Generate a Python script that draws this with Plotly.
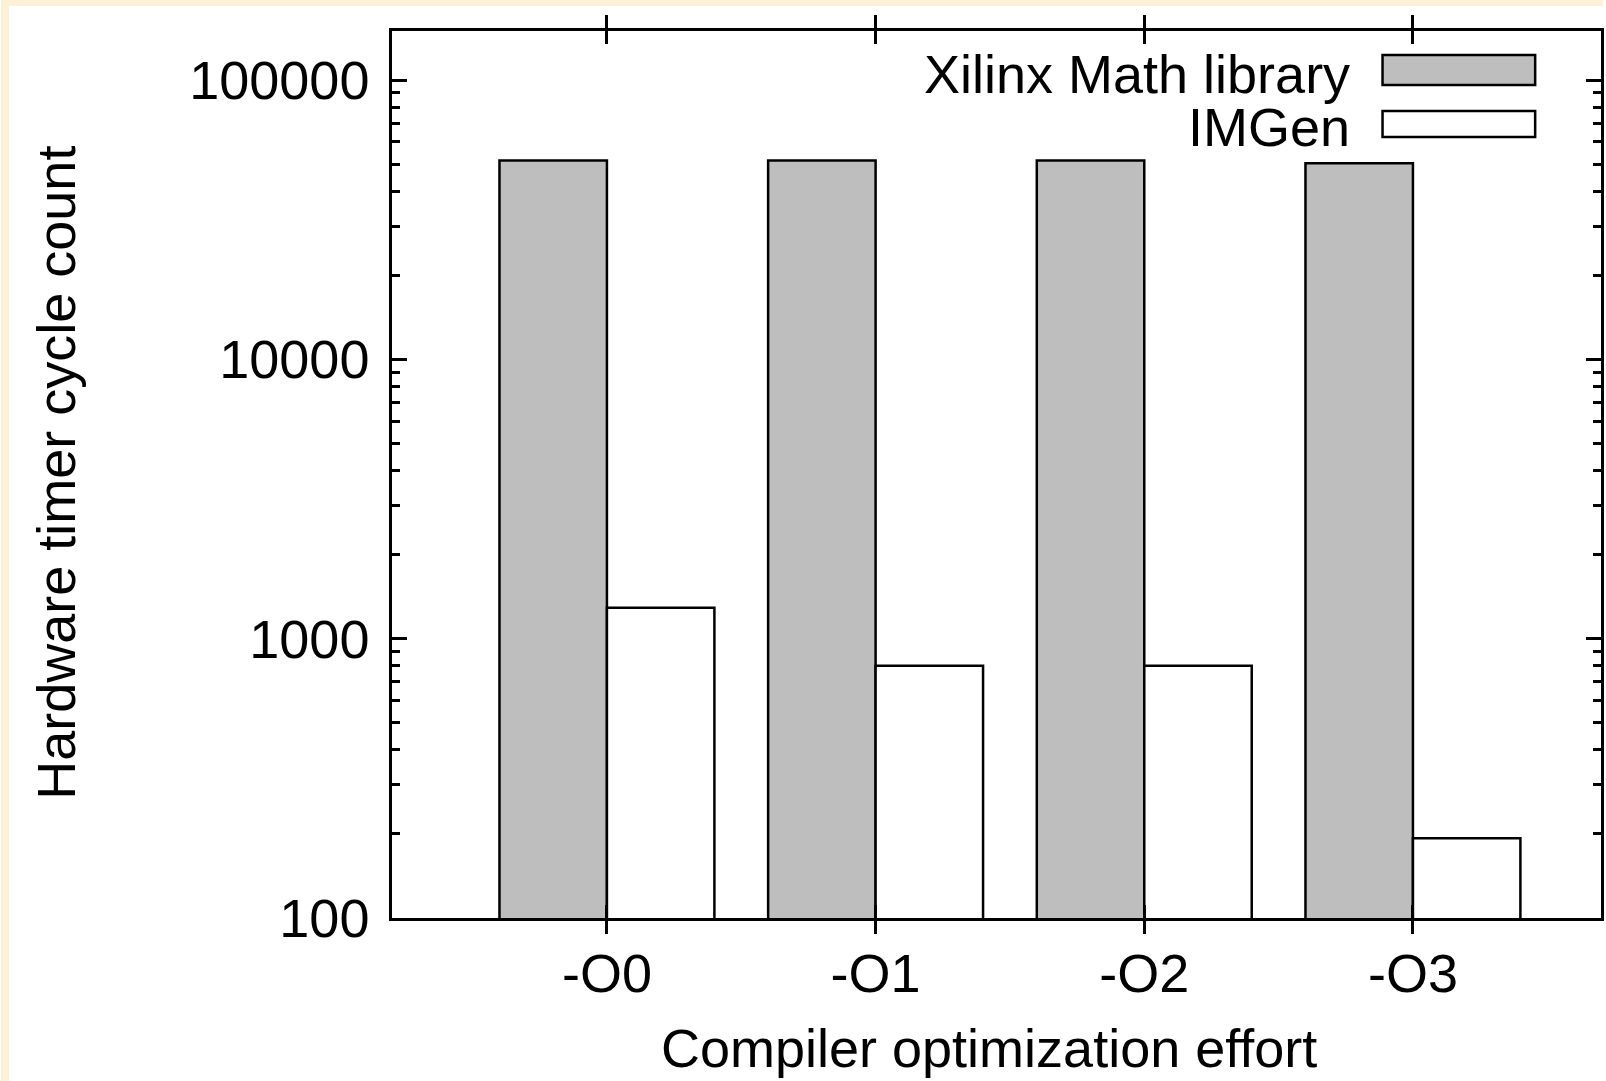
import plotly.graph_objects as go

categories = ["-O0", "-O1", "-O2", "-O3"]
xilinx = [51500, 51500, 51500, 50300]
imgen = [1290, 800, 800, 193]
series_names = ["Xilinx Math library", "IMGen"]
ytick_vals = [100, 1000, 10000, 100000]
ytick_text = ["100", "1000", "10000", "100000"]
minor_vals = [m * d for d in (100, 1000, 10000) for m in range(2, 10)]

W, H = 1606, 1081
L, R, T, B = 392, 1604, 31, 918
FONT = "Liberation Sans, Arial, sans-serif"
FS = 54
GRAY = "#BEBEBE"
LW = 2.5

def px(x):
    return (x - L) / (R - L)

def py(y):
    return (B - y) / (B - T)

fig = go.Figure()
fig.add_bar(x=categories, y=xilinx, name=series_names[0],
            marker=dict(color=GRAY, line=dict(color="black", width=LW)))
fig.add_bar(x=categories, y=imgen, name=series_names[1],
            marker=dict(color="white", line=dict(color="black", width=LW)))
# invisible helper trace so the mirrored right-hand log axis is drawn
fig.add_scatter(x=categories, y=xilinx, yaxis="y2", mode="markers",
                marker=dict(opacity=0), showlegend=False, hoverinfo="skip")

fig.update_layout(
    width=W, height=H,
    margin=dict(l=L, r=W - R, t=T, b=H - B, pad=0),
    paper_bgcolor="white", plot_bgcolor="white",
    barmode="group", bargap=0.2, bargroupgap=0,
    showlegend=False,
    font=dict(family=FONT, size=FS, color="black"),
)
fig.update_xaxes(
    type="category", range=[-0.8, 3.7],
    showline=True, linecolor="black", linewidth=LW, mirror="allticks",
    ticks="inside", ticklen=13, tickwidth=LW, tickcolor="black",
    showgrid=False, zeroline=False,
    tickfont=dict(family=FONT, size=FS, color="black"),
    ticklabelstandoff=6,
)
yaxis_common = dict(
    type="log", range=[2, 5.1754],
    tickmode="array", tickvals=ytick_vals, ticktext=ytick_text,
    ticks="inside", ticklen=15, tickwidth=LW, tickcolor="black",
    minor=dict(tickmode="array", tickvals=minor_vals, ticks="inside",
               ticklen=8, tickwidth=LW, tickcolor="black", showgrid=False),
    showgrid=False, zeroline=False,
)
fig.update_layout(
    yaxis=dict(**yaxis_common, showline=True, linecolor="black", linewidth=LW,
               mirror=True,
               tickfont=dict(family=FONT, size=FS, color="black"),
               ticklabelstandoff=9),
    yaxis2=dict(**yaxis_common, overlaying="y", side="right", anchor="x",
                showline=False, showticklabels=False),
)

# cream frame strips (left and top)
CREAM = "#FCF0D6"
fig.add_shape(type="rect", xref="paper", yref="paper",
              x0=px(0), x1=px(8), y0=py(H), y1=py(0),
              fillcolor=CREAM, line=dict(width=0), layer="above")
fig.add_shape(type="rect", xref="paper", yref="paper",
              x0=px(0), x1=px(W), y0=py(6), y1=py(0),
              fillcolor=CREAM, line=dict(width=0), layer="above")

# axis titles
fig.add_annotation(text="Hardware timer cycle count", xref="paper", yref="paper",
                   x=px(55), y=py(473), textangle=-90, showarrow=False,
                   xanchor="center", yanchor="middle",
                   font=dict(family=FONT, size=FS, color="black"))
fig.add_annotation(text="Compiler optimization effort", xref="paper", yref="paper",
                   x=px(990), y=py(1048), showarrow=False,
                   xanchor="center", yanchor="middle",
                   font=dict(family=FONT, size=FS, color="black"))

# legend (gnuplot-style: text right-aligned, sample box on the right)
legend_rows = [(series_names[0], GRAY, 55, 85, 74),
               (series_names[1], "white", 111, 137, 127)]
for name, col, y0, y1, yc in legend_rows:
    fig.add_shape(type="rect", xref="paper", yref="paper",
                  x0=px(1385), x1=px(1538), y0=py(y1), y1=py(y0),
                  fillcolor=col, line=dict(color="black", width=LW), layer="above")
    fig.add_annotation(text=name, xref="paper", yref="paper",
                       x=px(1354), y=py(yc), showarrow=False,
                       xanchor="right", yanchor="middle",
                       font=dict(family=FONT, size=FS, color="black"))

fig.write_html(
    "out.html",
    config={"displayModeBar": False},
    post_script="document.body.style.margin='0';document.body.style.overflow='hidden';",
)
